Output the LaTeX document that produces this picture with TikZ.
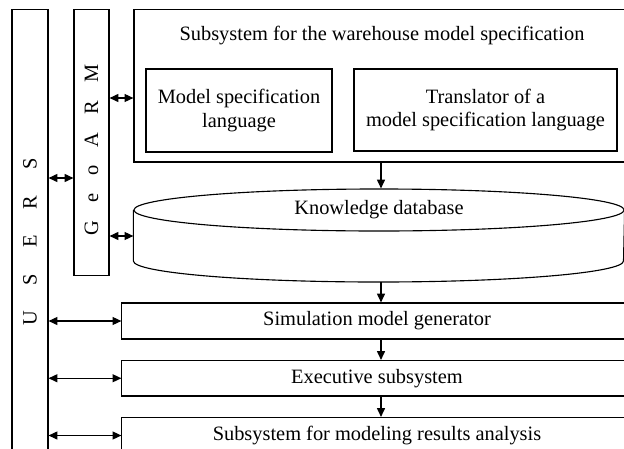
\documentclass[tikz,border=0pt]{standalone}
\usepackage{fontspec}
\setmainfont{Liberation Serif}
\usetikzlibrary{arrows.meta,positioning,calc,shapes.geometric}

\begin{document}
\begin{tikzpicture}[x=0.025cm, y=-0.025cm,
  blk/.style={draw, line width=0.8pt, rectangle, inner sep=0pt, align=center, font=\fontsize{14.5}{16.5}\selectfont},
  txt/.style={inner sep=0pt, align=center, font=\fontsize{14.5}{16.5}\selectfont},
  vtxt/.style={txt, rotate=90},
  arr/.style={-{Triangle[length=2.2mm, width=2mm]}, line width=0.8pt},
  darr/.style={{Triangle[length=2.2mm, width=2mm]}-{Triangle[length=2.2mm, width=2mm]}, line width=0.8pt}]
\useasboundingbox (0,0) rectangle (624,448);
\clip (0,0) rectangle (624,448);

% left columns
\node[blk, minimum width=0.9cm, minimum height=11.625cm] (users) at (30,242) {};
\node[vtxt] (userstxt) at (users) {\spaceskip=18.5pt U S E R S};
\node[blk, minimum width=0.875cm, minimum height=6.65cm] (geo) at (91.5,142.5) {};
\node[vtxt] (geotxt) at (91.5,150) {\spaceskip=13pt G e o A R M};

% specification subsystem
\node[blk, minimum width=12.35cm, minimum height=3.8125cm] (spec) at (381,85.75) {};
\node[txt] (spectxt) at (382,36) {Subsystem for the warehouse model specification};
\node[blk, minimum width=4.65cm, minimum height=2.075cm] (msl) at (239,110.5) {Model specification\\language};
\node[blk, minimum width=6.575cm, minimum height=2.05cm] (trl) at (485.5,110) {Translator of a\\model specification language};

% knowledge database
\node[blk, ellipse, minimum width=12.25cm, minimum height=1.05cm] (kb) at (379,210) {Knowledge database};
\draw[line width=0.8pt] (kb.west) -- ++(0,51)
  arc[start angle=180, end angle=360, x radius=6.125cm, y radius=0.525cm] -- (kb.east);
\coordinate (kbbot) at (381,282);

% chain of subsystems
\node[blk, minimum width=12.75cm, minimum height=0.9cm] (sim) at (377,321) {Simulation model generator};
\node[blk, minimum width=12.75cm, minimum height=0.8875cm] (exec) at (377,378.25) {Executive subsystem};
\node[blk, minimum width=12.75cm, minimum height=0.9cm] (res) at (377,435.5) {Subsystem for modeling results analysis};

\draw[arr] (spec.south) -- (spec.south |- kb.north);
\draw[arr] (kbbot) -- (sim.north -| kbbot);
\draw[arr] (sim.south -| kbbot) -- (exec.north -| kbbot);
\draw[arr] (exec.south -| kbbot) -- (res.north -| kbbot);

% links to users and GeoARM
\foreach \b in {sim,exec,res}{\draw[darr] (users.east |- \b.west) -- (\b.west);}
\coordinate (ug) at (0,178);
\coordinate (gs) at (0,98);
\coordinate (gk) at (0,236);
\draw[darr] (users.east |- ug) -- (geo.west |- ug);
\draw[darr] (geo.east |- gs) -- (spec.west |- gs);
\draw[darr] (geo.east |- gk) -- (kb.west |- gk);
\end{tikzpicture}
\end{document}
